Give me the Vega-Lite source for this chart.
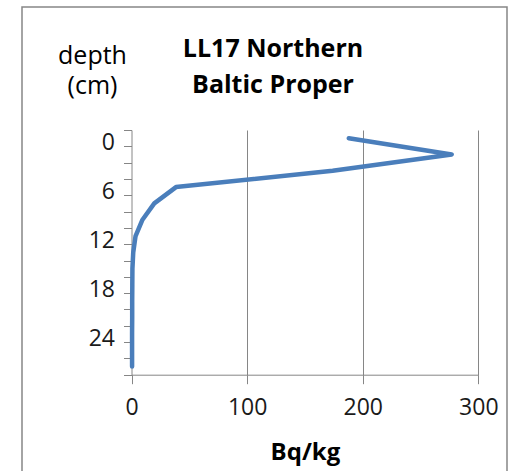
{
  "$schema": "https://vega.github.io/schema/vega-lite/v6.json",
  "width": 485,
  "height": 466,
  "autosize": {"type": "none"},
  "padding": {"left": 22, "top": 7, "right": 5, "bottom": -2},
  "background": "white",
  "config": {
    "view": {"stroke": "#868686", "strokeWidth": 1.5, "fill": "white"},
    "font": "Open Sans"
  },
  "title": {
    "text": ["LL17 Northern", "Baltic Proper"],
    "fontSize": 25,
    "fontWeight": "bold",
    "font": "Open Sans",
    "color": "#000000",
    "anchor": "middle",
    "frame": "group",
    "baseline": "alphabetic",
    "offset": 0,
    "dy": 111.4,
    "dx": 8.5,
    "lineHeight": 36
  },
  "data": {
    "values": [
      {"depth": -1, "activity": 188},
      {"depth": 1, "activity": 277},
      {"depth": 3, "activity": 174},
      {"depth": 5, "activity": 38.5},
      {"depth": 7, "activity": 19.7},
      {"depth": 9, "activity": 9.5},
      {"depth": 11, "activity": 3.5},
      {"depth": 13, "activity": 1.5},
      {"depth": 15, "activity": 0.8},
      {"depth": 17, "activity": 0.7},
      {"depth": 19, "activity": 0.6},
      {"depth": 21, "activity": 0.6},
      {"depth": 23, "activity": 0.5},
      {"depth": 25, "activity": 0.5},
      {"depth": 27, "activity": 0.5}
    ]
  },
  "encoding": {
    "y": {
      "field": "depth",
      "type": "quantitative",
      "scale": {"domain": [-2, 28], "range": [123, 367.7], "nice": false, "zero": false},
      "axis": {
        "orient": "left",
        "offset": -109.5,
        "values": [-2, 0, 2, 4, 6, 8, 10, 12, 14, 16, 18, 20, 22, 24, 26, 28],
        "labelExpr": "datum.value >= 0 && datum.value <= 24 && datum.value % 6 == 0 ? datum.label : ''",
        "grid": false,
        "domainColor": "#868686",
        "tickColor": "#868686",
        "tickSize": 8,
        "labelFont": "Open Sans",
        "labelFontSize": 23,
        "labelColor": "#1a1a1a",
        "labelPadding": 9,
        "labelBaseline": "alphabetic",
        "labelOffset": 3,
        "labelOverlap": false,
        "labelFlush": false,
        "labelBound": false,
        "title": ["depth", "(cm)"],
        "titleAngle": 0,
        "titleX": -39.5,
        "titleY": 56.7,
        "titleAlign": "center",
        "titleBaseline": "alphabetic",
        "titleFont": "Open Sans",
        "titleFontSize": 25,
        "titleFontWeight": "normal",
        "titleLineHeight": 30,
        "titleColor": "#000000"
      }
    },
    "order": {"field": "depth", "type": "quantitative"}
  },
  "layer": [
    {
      "mark": {"type": "line", "strokeOpacity": 0},
      "encoding": {
        "x": {
          "field": "activity",
          "type": "quantitative",
          "scale": {"domain": [0, 300], "range": [109.5, 456.3], "nice": false},
          "axis": {
            "orient": "top",
            "grid": true,
            "gridColor": "#868686",
            "gridWidth": 1,
            "values": [100, 200, 300],
            "labels": false,
            "ticks": false,
            "domain": false,
            "title": null
          }
        }
      }
    },
    {
      "mark": {"type": "line", "color": "#4a7ebb", "strokeWidth": 4.5, "strokeCap": "round", "strokeJoin": "round"},
      "encoding": {
        "x": {
          "field": "activity",
          "type": "quantitative",
          "scale": {"domain": [0, 300], "range": [109.5, 456.3], "nice": false},
          "axis": {
            "orient": "bottom",
            "offset": -98.3,
            "values": [0, 100, 200, 300],
            "grid": false,
            "domainColor": "#868686",
            "tickColor": "#868686",
            "tickSize": 9,
            "labelFont": "Open Sans",
            "labelFontSize": 23,
            "labelColor": "#1a1a1a",
            "labelPadding": 31,
            "labelBaseline": "alphabetic",
            "labelFlush": false,
            "labelOverlap": false,
            "title": "Bq/kg",
            "titleFont": "Open Sans",
            "titleFontSize": 24,
            "titleFontWeight": "bold",
            "titleY": 85,
            "titleBaseline": "alphabetic",
            "titleColor": "#000000"
          }
        }
      }
    }
  ],
  "resolve": {"axis": {"x": "independent"}}
}
